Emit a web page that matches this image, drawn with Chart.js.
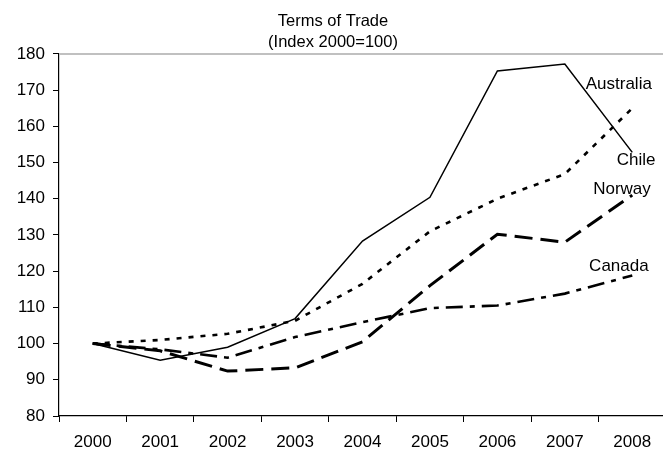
<!DOCTYPE html>
<html>
<head>
<meta charset="utf-8">
<script src="https://cdn.jsdelivr.net/npm/chart.js@4"></script>
<style>
  html, body { margin: 0; padding: 0; background: #fff; overflow: hidden; }
  #wrap { width: 670px; height: 452px; }
</style>
</head>
<body>
<div id="wrap"><canvas id="tradeChart" width="670" height="452"></canvas></div>
<script>
// years on the x axis
const years = ['2000', '2001', '2002', '2003', '2004', '2005', '2006', '2007', '2008'];

// terms of trade, index 2000 = 100
const australia = [100, 95.4, 99, 106.9, 128.3, 140.4, 175.3, 177.2, 152.8];
const chile     = [100, 101, 102.7, 106.3, 116.5, 131, 140, 146.8, 165];
const norway    = [100, 98, 92.4, 93.3, 100.5, 116, 130.2, 128, 141];
const canada    = [100, 98.4, 96.1, 101.8, 105.9, 109.8, 110.5, 113.8, 118.8];

const yTicks = [80, 90, 100, 110, 120, 130, 140, 150, 160, 170, 180];

// where the series names sit (category index of the left edge, value at the middle)
const nameSpots = {
  Australia: [7.31, 171.5],
  Chile: [7.77, 150.6],
  Norway: [7.42, 142.7],
  Canada: [7.36, 121.3]
};

const font = { family: 'Arial, "Liberation Sans", sans-serif', size: 17 };

// series names written next to the lines, like the excel data labels
const seriesNames = {
  id: 'seriesNames',
  afterDatasetsDraw(chart) {
    const ctx = chart.ctx;
    const x = chart.scales.x, y = chart.scales.y;
    ctx.save();
    ctx.font = '17px ' + font.family;
    ctx.fillStyle = '#000';
    ctx.textAlign = 'left';
    ctx.textBaseline = 'middle';
    chart.data.datasets.forEach(ds => {
      const spot = nameSpots[ds.label];
      ctx.fillText(ds.label, x.getPixelForValue(spot[0]), y.getPixelForValue(spot[1]));
    });
    ctx.restore();
  }
};

// the light grey line along the top of the plot
const topLine = {
  id: 'topLine',
  beforeDatasetsDraw(chart) {
    const a = chart.chartArea, ctx = chart.ctx;
    ctx.save();
    ctx.strokeStyle = '#c0c0c0';
    ctx.lineWidth = 2;
    ctx.beginPath();
    ctx.moveTo(a.left, a.top);
    ctx.lineTo(chart.width, a.top);
    ctx.stroke();
    ctx.restore();
  }
};

new Chart(document.getElementById('tradeChart'), {
  type: 'line',
  data: {
    labels: years,
    datasets: [{
      label: 'Australia',
      data: australia,
      borderColor: '#000',
      borderWidth: 1.5
    }, {
      label: 'Chile',
      data: chile,
      borderColor: '#000',
      borderWidth: 2.6,
      borderDash: [5, 7]
    }, {
      label: 'Norway',
      data: norway,
      borderColor: '#000',
      borderWidth: 3,
      borderDash: [18, 8]
    }, {
      label: 'Canada',
      data: canada,
      borderColor: '#000',
      borderWidth: 2.6,
      borderDash: [17, 7, 5, 7]
    }]
  },
  options: {
    responsive: false,
    animation: false,
    tension: 0,
    elements: { point: { radius: 0 } },
    layout: { padding: { left: 0, right: 4, top: 0, bottom: 0 } },
    plugins: {
      legend: { display: false },
      tooltip: { enabled: false },
      title: {
        display: true,
        text: ['Terms of Trade', '(Index 2000=100)'],
        color: '#000',
        font: { family: font.family, size: 16.5, weight: 'normal', lineHeight: 1.33 },
        padding: { top: 10, bottom: 0 }
      }
    },
    scales: {
      x: {
        offset: true,
        afterFit: s => { s.height = 36; },
        border: { color: '#000', width: 1.2 },
        grid: {
          offset: true,
          drawOnChartArea: false,
          tickLength: 6,
          tickColor: '#000'
        },
        ticks: { color: '#000', font: font, padding: 10, maxRotation: 0 }
      },
      y: {
        min: 80,
        max: 180,
        afterFit: s => { s.width = 59; },
        afterBuildTicks: s => { s.ticks = yTicks.map(v => ({ value: v })); },
        border: { color: '#000', width: 1.2 },
        grid: {
          drawOnChartArea: false,
          tickLength: 6,
          tickColor: '#000',
          tickWidth: 1
        },
        ticks: { color: '#000', font: font, padding: 8 }
      }
    }
  },
  plugins: [topLine, seriesNames]
});
</script>
</body>
</html>
